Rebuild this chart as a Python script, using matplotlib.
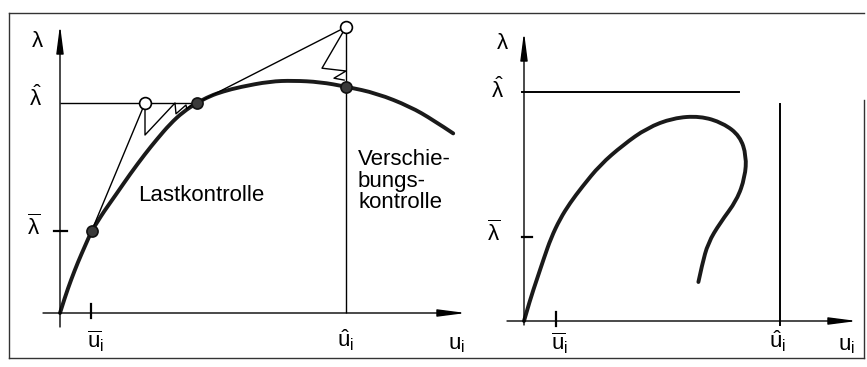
import numpy as np
import matplotlib
matplotlib.use("Agg")
import matplotlib.pyplot as plt
from matplotlib.lines import Line2D
from matplotlib.path import Path
from matplotlib.patches import PathPatch

plt.rcParams['font.family'] = ['Liberation Sans', 'DejaVu Sans']
plt.rcParams['mathtext.fontset'] = 'custom'
plt.rcParams['mathtext.rm'] = 'Liberation Sans'
plt.rcParams['mathtext.it'] = 'Liberation Sans'
plt.rcParams['mathtext.bf'] = 'Liberation Sans:bold'

# --- left: load control vs. displacement control (u, lambda) ---
curve_u = [0, 0.125, 0.275, 0.45, 0.625, 0.79, 0.95, 1.08, 1.42, 1.75, 2.125, 2.42,
           2.75, 3.08, 3.42, 3.75, 4.08, 4.5, 5.25, 5.83, 6.5, 7.15, 7.925, 8.75, 9.33, 9.83]
curve_l = [0, 0.40, 0.825, 1.275, 1.675, 2.05, 2.30, 2.51, 2.99, 3.47, 3.975, 4.34,
           4.725, 5.03, 5.25, 5.425, 5.54, 5.65, 5.79, 5.81, 5.775, 5.66, 5.49, 5.16, 4.825, 4.49]

lam_hat = 5.25
lam_bar = 2.05
u_bar = 0.78
u_hat = 7.15

# converged states (filled) and predictor states (open)
conv_u = [0.79, 3.42, 7.15]
conv_l = [2.05, 5.25, 5.66]
pred_u = [2.125, 7.15]
pred_l = [5.25, 7.15]

# load control iterations
load_u = [0.79, 2.125, 2.125, 2.875, 2.9, 3.15, 3.17, 3.33]
load_l = [2.05, 5.25, 4.45, 5.25, 4.98, 5.2, 5.1, 5.24]

# displacement control iterations
disp_u = [3.42, 7.15, 6.55, 7.15, 6.85, 7.12]
disp_l = [5.25, 7.15, 6.12, 6.05, 5.87, 5.82]

# --- right: snap-back curve ---
snap_u = [0, 0.15, 0.325, 0.5, 0.675, 0.9, 1.15, 1.45, 1.9, 2.475, 3.075, 3.725, 4.4,
          4.975, 5.4, 5.56, 5.525, 5.325, 4.9, 4.6, 4.45, 4.36]
snap_l = [0, 0.525, 1.05, 1.575, 2.075, 2.55, 2.95, 3.35, 3.9, 4.4, 4.825, 5.075, 5.125,
          4.95, 4.625, 4.125, 3.6, 3.025, 2.45, 1.95, 1.4, 0.975]

r_lam_hat = 5.725
r_lam_bar = 2.1
r_u_bar = 0.8
r_u_hat = 6.4

fig = plt.figure(figsize=(8.67, 3.67), dpi=100)
ax1 = fig.add_axes([0, 0, 467 / 867, 1])
ax2 = fig.add_axes([467 / 867, 0, 400 / 867, 1])
ax1.set_xlim(-1.5, 10.175)
ax1.set_ylim(-1.35, 7.825)
ax2.set_xlim(-1.425, 8.575)
ax2.set_ylim(-1.15, 8.025)
for ax in (ax1, ax2):
    ax.axis('off')

thin = dict(color='black', lw=1.0, solid_capstyle='butt')
fs = 16


def smooth_curve(ax, us, ls, **kw):
    # quadratic bezier pieces: the read points act as control points
    pts = np.column_stack([us, ls])
    verts = [pts[0]]
    codes = [Path.MOVETO]
    for i in range(1, len(pts) - 1):
        verts += [pts[i], (pts[i] + pts[i + 1]) / 2]
        codes += [Path.CURVE3, Path.CURVE3]
    verts[-1] = pts[-1]
    patch = PathPatch(Path(verts, codes), fill=False, capstyle='round', **kw)
    patch.set_clip_on(False)
    ax.add_patch(patch)


def draw_axes(ax, xend, yend, xstart=-0.425, ystart=-0.3):
    arrow = dict(arrowstyle='-|>,head_length=1.7,head_width=0.22', color='black',
                 lw=1.0, shrinkA=0, shrinkB=0, mutation_scale=10)
    ax.annotate('', xy=(xend, 0), xytext=(xstart, 0), arrowprops=arrow,
                annotation_clip=False)
    ax.annotate('', xy=(0, yend), xytext=(0, ystart), arrowprops=arrow,
                annotation_clip=False)


# left panel
ax = ax1
draw_axes(ax, 10.15, 7.2, ystart=-0.35)
ax.plot([0, conv_u[1]], [lam_hat, lam_hat], **thin)
ax.plot([-0.15, 0.18], [lam_bar, lam_bar], color='black', lw=1.6)
ax.plot([u_bar, u_bar], [-0.12, 0.22], color='black', lw=1.6)
ax.plot([u_hat, u_hat], [0, pred_l[1]], **thin)
ax.plot(load_u, load_l, **thin)
ax.plot(disp_u, disp_l, **thin)
smooth_curve(ax, curve_u, curve_l, edgecolor='#1a1a1a', lw=2.8)
ax.plot(conv_u, conv_l, 'o', ms=8, mfc='#3a3a3a', mec='#111111', mew=1.2)
ax.plot(pred_u, pred_l, 'o', ms=8.5, mfc='white', mec='black', mew=1.2)

ax.text(-0.575, 6.8, r'$\lambda$', fontsize=fs, ha='center', va='center')
ax.text(-0.6, lam_hat + 0.12, r'$\hat{\lambda}$', fontsize=fs, ha='center', va='center')
ax.text(-0.65, lam_bar + 0.1, r'$\overline{\lambda}$', fontsize=fs, ha='center', va='center')
ax.text(u_bar + 0.1, -0.7, r'$\overline{u}_i$', fontsize=fs, ha='center', va='center')
ax.text(u_hat, -0.68, r'$\hat{u}_i$', fontsize=fs, ha='center', va='center')
ax.text(9.9, -0.78, r'$u_i$', fontsize=fs, ha='center', va='center')
ax.text(3.52, 2.95, 'Lastkontrolle', fontsize=fs, ha='center', va='center')
ax.text(7.45, 3.3, 'Verschie-\nbungs-\nkontrolle', fontsize=fs, ha='left', va='center',
        linespacing=1.05)

# right panel
ax = ax2
draw_axes(ax, 8.325, 7.225, ystart=-0.1)
ax.plot([-0.05, 5.375], [r_lam_hat, r_lam_hat], color='black', lw=1.4)
ax.plot([-0.05, 0.2], [r_lam_bar, r_lam_bar], color='black', lw=1.6)
ax.plot([r_u_bar, r_u_bar], [-0.12, 0.22], color='black', lw=1.6)
ax.plot([r_u_hat, r_u_hat], [-0.1, 5.425], color='black', lw=1.4)
smooth_curve(ax, snap_u, snap_l, edgecolor='#1a1a1a', lw=2.8)

ax.text(-0.55, 6.95, r'$\lambda$', fontsize=fs, ha='center', va='center')
ax.text(-0.65, r_lam_hat + 0.05, r'$\hat{\lambda}$', fontsize=fs, ha='center', va='center')
ax.text(-0.77, r_lam_bar + 0.1, r'$\overline{\lambda}$', fontsize=fs, ha='center', va='center')
ax.text(r_u_bar + 0.1, -0.55, r'$\overline{u}_i$', fontsize=fs, ha='center', va='center')
ax.text(r_u_hat - 0.05, -0.5, r'$\hat{u}_i$', fontsize=fs, ha='center', va='center')
ax.text(8.05, -0.6, r'$u_i$', fontsize=fs, ha='center', va='center')

# frame around both panels
W, H = 867, 367
frame = [((9, 13), (864, 13)), ((9, 13), (9, 358)), ((9, 358), (864, 358)),
         ((864, 100), (864, 358))]
for (x0, y0), (x1, y1) in frame:
    fig.add_artist(Line2D([x0 / W, x1 / W], [1 - y0 / H, 1 - y1 / H],
                          color='#333333', lw=1.0, transform=fig.transFigure))

fig.savefig('out.png', dpi=100, facecolor='white')
